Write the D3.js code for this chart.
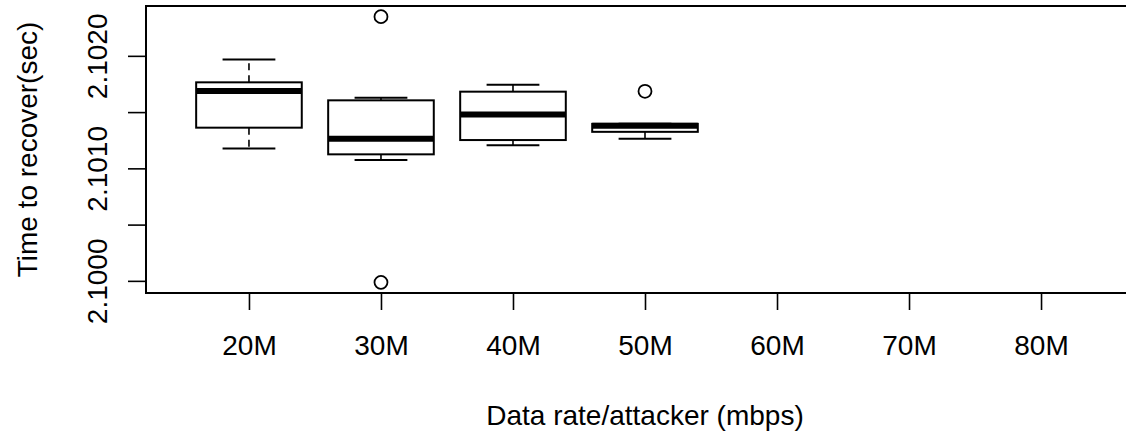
<!DOCTYPE html>
<html>
<head>
<meta charset="utf-8">
<script src="https://cdn.jsdelivr.net/npm/d3@7"></script>
<style>
  body { margin: 0; background: #fff; }
  svg text { font-family: "Liberation Sans", Arial, sans-serif; fill: #000; }
</style>
</head>
<body>
<svg id="chart" width="1126" height="432"></svg>
<script>
// groups on the x axis
const categories = ["20M", "30M", "40M", "50M", "60M", "70M", "80M"];

// box statistics (null = no data for that rate)
const whiskerLow  = [2.101180, 2.101078, 2.101209, 2.101268, null, null, null];
const lowerQ      = [2.101366, 2.101129, 2.101256, 2.101329, null, null, null];
const medians     = [2.101693, 2.101268, 2.101484, 2.101382, null, null, null];
const upperQ      = [2.101769, 2.101609, 2.101686, 2.101400, null, null, null];
const whiskerHigh = [2.101973, 2.101633, 2.101748, 2.101400, null, null, null];
const outliers    = [[], [2.102353, 2.099991], [], [2.101689], [], [], []];

const yTicks = [2.1000, 2.1005, 2.1010, 2.1015, 2.1020];
const yTickLabels = ["2.1000", "", "2.1010", "", "2.1020"];

const svg = d3.select("#chart");
const plotLeft = 146, plotTop = 6, plotBottom = 293, plotRight = 1144;
const n = categories.length;

// R-style axis extension of 4% on both sides
const xPad = 0.04 * n;
const x = d3.scaleLinear()
  .domain([0.5 - xPad, n + 0.5 + xPad])
  .range([plotLeft, plotRight]);

const allVals = [].concat(whiskerLow, whiskerHigh, ...outliers).filter(v => v != null);
const yMin = d3.min(allVals), yMax = d3.max(allVals);
const yPad = 0.04 * (yMax - yMin);
const y = d3.scaleLinear()
  .domain([yMin - yPad, yMax + yPad])
  .range([plotBottom, plotTop]);

const boxW = (x(2) - x(1)) * 0.8;
const capW = boxW * 0.5;

// frame
svg.append("rect")
  .attr("x", plotLeft).attr("y", plotTop)
  .attr("width", plotRight - plotLeft).attr("height", plotBottom - plotTop)
  .attr("fill", "none").attr("stroke", "#000").attr("stroke-width", 2);

// x axis
const xAxis = d3.axisBottom(x)
  .tickValues(d3.range(1, n + 1))
  .tickFormat(d => categories[d - 1])
  .tickSize(17).tickPadding(25);
const gx = svg.append("g")
  .attr("transform", "translate(0," + plotBottom + ")")
  .call(xAxis);
gx.select(".domain").remove();
gx.selectAll("line").attr("stroke", "#000").attr("stroke-width", 1.6);
gx.selectAll("text").attr("font-size", 28).attr("dy", "0.71em");

// y axis (labels rotated, as in R)
const yAxis = d3.axisLeft(y)
  .tickValues(yTicks)
  .tickFormat((d, i) => yTickLabels[i])
  .tickSize(18);
const gy = svg.append("g")
  .attr("transform", "translate(" + plotLeft + ",0)")
  .call(yAxis);
gy.select(".domain").remove();
gy.selectAll("line").attr("stroke", "#000").attr("stroke-width", 1.6);
gy.selectAll(".tick").attr("transform", null);
gy.selectAll(".tick line").attr("y1", d => y(d)).attr("y2", d => y(d));
gy.selectAll("text")
  .attr("font-size", 28)
  .attr("x", null).attr("dy", null)
  .attr("text-anchor", "middle")
  .attr("transform", d => "translate(-39," + y(d) + ") rotate(-90)");

// boxes
const stats = categories.map((c, i) => ({
  i: i + 1,
  lo: whiskerLow[i], q1: lowerQ[i], med: medians[i], q3: upperQ[i], hi: whiskerHigh[i],
  out: outliers[i]
})).filter(d => d.med != null);

const g = svg.append("g").attr("stroke", "#000").attr("fill", "none");

stats.forEach(d => {
  const cx = x(d.i);
  // whiskers (dashed, drawn from the box outward)
  g.append("line")
    .attr("x1", cx).attr("x2", cx)
    .attr("y1", y(d.q3)).attr("y2", y(d.hi))
    .attr("stroke-width", 1.6).attr("stroke-dasharray", "7,5");
  g.append("line")
    .attr("x1", cx).attr("x2", cx)
    .attr("y1", y(d.q1)).attr("y2", y(d.lo))
    .attr("stroke-width", 1.6).attr("stroke-dasharray", "7,5");
  // staples
  [d.lo, d.hi].forEach(v => {
    g.append("line")
      .attr("x1", cx - capW / 2).attr("x2", cx + capW / 2)
      .attr("y1", y(v)).attr("y2", y(v))
      .attr("stroke-width", 2);
  });
  // box
  g.append("rect")
    .attr("x", cx - boxW / 2).attr("width", boxW)
    .attr("y", y(d.q3)).attr("height", y(d.q1) - y(d.q3))
    .attr("fill", "#fff").attr("stroke-width", 2);
  // median
  g.append("line")
    .attr("x1", cx - boxW / 2).attr("x2", cx + boxW / 2)
    .attr("y1", y(d.med)).attr("y2", y(d.med))
    .attr("stroke-width", 6);
  // outliers
  d.out.forEach(v => {
    g.append("circle")
      .attr("cx", cx).attr("cy", y(v)).attr("r", 6.5)
      .attr("stroke-width", 1.8);
  });
});

// axis titles
svg.append("text")
  .attr("x", x(4)).attr("y", 425)
  .attr("text-anchor", "middle")
  .attr("font-size", 28)
  .text("Data rate/attacker (mbps)");

svg.append("text")
  .attr("transform", "translate(37," + ((plotTop + plotBottom) / 2) + ") rotate(-90)")
  .attr("text-anchor", "middle")
  .attr("font-size", 28)
  .text("Time to recover(sec)");
</script>
</body>
</html>
